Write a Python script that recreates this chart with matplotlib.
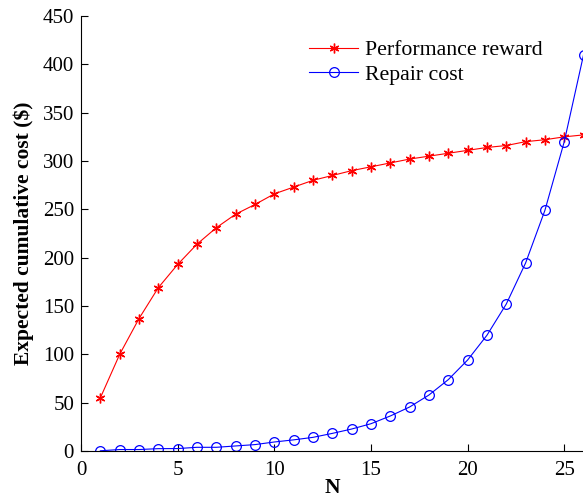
import matplotlib.pyplot as plt
import numpy as np

plt.rcParams['font.family'] = ['Liberation Serif', 'DejaVu Serif']

# number of maintenance periods
N = np.arange(1, 27)

# expected cumulative values ($)
performance_reward = [55, 100, 137, 169, 193, 214, 231, 245, 255, 266, 273, 280,
                      285, 290, 294, 298, 302, 305, 308, 311, 314, 316, 320, 322,
                      325, 327]
repair_cost = [0.2, 1.5, 1.5, 2.4, 2.5, 3.8, 3.8, 5.2, 6.6, 9.3, 11.5, 14.1,
               18.2, 22.7, 28.2, 36.2, 45.5, 57.9, 73.8, 94.1, 119.7, 152,
               194.5, 249, 320, 410]

fig = plt.figure(figsize=(5.83, 4.97), dpi=100)
ax = fig.add_axes([0.139, 0.0926, 0.862, 0.8752])

ax.plot(N, performance_reward, color='#ff0000', lw=0.8, marker=(6, 2, 0),
        ms=7, mew=1.0, label='Performance reward')
ax.plot(N, repair_cost, color='#0000ff', lw=0.8, marker='o', ms=7,
        mfc='none', mew=0.9, label='Repair cost')

ax.set_xlim(0, 26)
ax.set_ylim(0, 450)
ax.set_xticks([0, 5, 10, 15, 20, 25])
ax.set_yticks(np.arange(0, 451, 50))

ax.spines['top'].set_visible(False)
ax.spines['right'].set_visible(False)
ax.tick_params(direction='in', length=5, width=0.8, labelsize=15)
ax.tick_params(axis='x', pad=7)
ax.tick_params(axis='y', pad=5)

ax.set_xlabel('N', fontsize=15.5, fontweight='bold', labelpad=-1.5)
ax.set_ylabel('Expected cumulative cost ($)', fontsize=15.5, fontweight='bold',
              labelpad=6)

ax.legend(loc='upper left', bbox_to_anchor=(0.415, 0.99), frameon=False,
          fontsize=15.7, handlelength=2.25, handletextpad=0.3, labelspacing=0.2)

fig.savefig('out.png', dpi=100)
